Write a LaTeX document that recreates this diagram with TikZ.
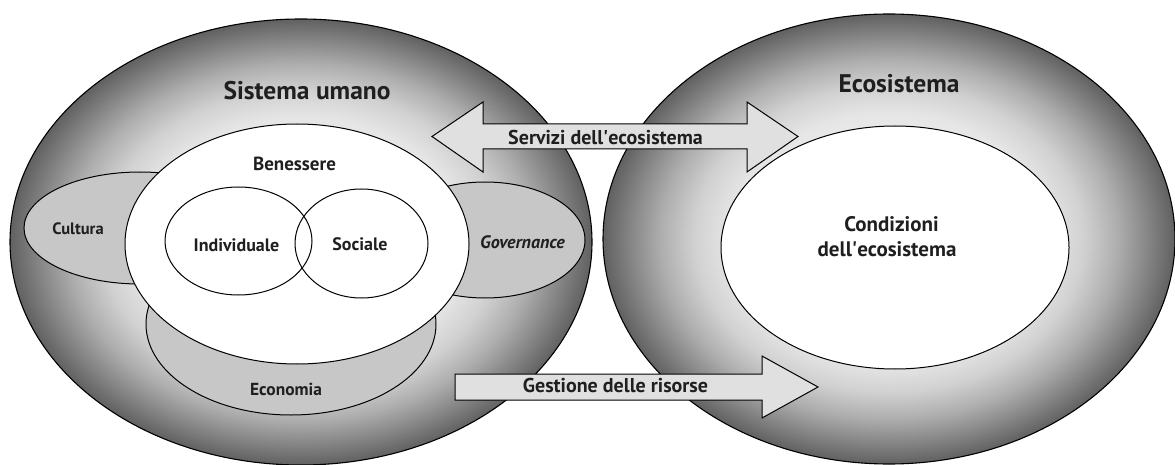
\documentclass[tikz,border=0pt]{standalone}
\usepackage{fontspec}
\setmainfont{PT Sans}
\usetikzlibrary{shapes.geometric}
\pgfdeclareradialshading{ringshade}{\pgfpoint{0bp}{0bp}}{%
  color(0bp)=(white);
  color(14bp)=(white!90!black);
  color(17bp)=(white!82!black);
  color(20bp)=(white!68!black);
  color(23bp)=(white!50!black);
  color(25bp)=(white!38!black);
  color(50bp)=(white!38!black)}
\tikzset{
  bigoval/.style={ellipse, draw=black, line width=1.1pt, shading=ringshade, inner sep=0pt},
  subset/.style={ellipse, draw=black, line width=1pt, fill=white!78!black, inner sep=0pt},
  whiteoval/.style={ellipse, draw=black, line width=1pt, fill=white, inner sep=0pt},
  lens/.style={ellipse, draw=black, line width=1pt, inner sep=0pt},
  arrowshape/.style={draw=black, line width=1pt, fill=white!88!black, line join=miter},
  lbl/.style={font=\bfseries, text=black!88, anchor=base, inner sep=0pt},
}
\newcommand{\apo}{\textquotesingle}
\begin{document}
\begin{tikzpicture}[x=1pt,y=-1pt]
\useasboundingbox (0,0) rectangle (1175,465);
% big systems
\node[bigoval, minimum width=582pt, minimum height=446pt] (human) at (301,242) {};
\node[bigoval, minimum width=572pt, minimum height=450pt] (eco) at (889,239) {};
% subsystems
\node[subset, minimum width=232pt, minimum height=112pt] (cult) at (140,228) {};
\node[subset, minimum width=200pt, minimum height=116pt] (gov) at (485,240) {};
\node[subset, minimum width=290pt, minimum height=182pt] (econ) at (291,324) {};
% wellbeing
\node[whiteoval, minimum width=344pt, minimum height=240pt] (well) at (297,244) {};
\node[lens, minimum width=147pt, minimum height=108pt] (indiv) at (238.5,241) {};
\node[lens, minimum width=133pt, minimum height=109pt] (soc) at (361.5,243.5) {};
% ecosystem condition
\node[whiteoval, minimum width=348pt, minimum height=243pt] (cond) at (895,247.5) {};
% arrows
\coordinate (sL) at (432,136.5);
\coordinate (sR) at (798,136.5);
\draw[arrowshape] (sL) -- (483,102) -- (483,124) -- (747,124) -- (747,102) -- (sR)
  -- (747,172) -- (747,149) -- (483,149) -- (483,172) -- cycle;
\coordinate (gT) at (818,387);
\draw[arrowshape] (455,374) -- (762,374) -- (762,356) -- (gT) -- (762,418) -- (762,400) -- (455,400) -- cycle;
% labels
\node[lbl, font=\bfseries\fontsize{25.5}{28}\selectfont] (tHuman) at (307,100) {Sistema umano};
\node[lbl, font=\bfseries\fontsize{25.5}{28}\selectfont] (tEco) at (899,93) {Ecosistema};
\node[lbl, font=\bfseries\fontsize{19}{22}\selectfont] (tWell) at (294.5,171) {Benessere};
\node[lbl, font=\bfseries\fontsize{18}{21}\selectfont] (tIndiv) at (236.5,251.5) {Individuale};
\node[lbl, font=\bfseries\fontsize{18}{21}\selectfont] (tSoc) at (360,250) {Sociale};
\node[lbl, font=\bfseries\fontsize{16.5}{19}\selectfont] (tCult) at (78,234) {Cultura};
\node[lbl, font=\bfseries\itshape\fontsize{18}{21}\selectfont] (tGov) at (522.5,248) {Governance};
\node[lbl, font=\bfseries\fontsize{17.4}{20}\selectfont] (tEcon) at (286,395) {Economia};
\node[lbl, font=\bfseries\fontsize{20}{23}\selectfont] (tServ) at (605.5,144.3) {Servizi dell\apo ecosistema};
\node[lbl, font=\bfseries\fontsize{20}{23}\selectfont] (tGest) at (615.5,392.7) {Gestione delle risorse};
\node[lbl, font=\bfseries\fontsize{21}{24}\selectfont] (tCond1) at (891.5,231) {Condizioni};
\node[lbl, font=\bfseries\fontsize{21}{24}\selectfont] (tCond2) at (887,256) {dell\apo ecosistema};
\end{tikzpicture}
\end{document}
